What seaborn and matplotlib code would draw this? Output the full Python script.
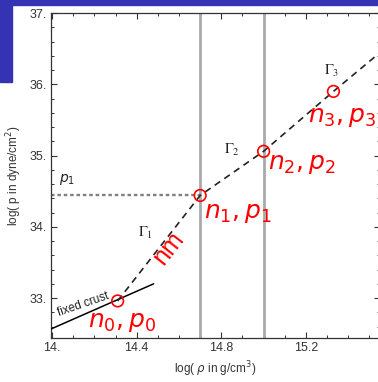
import matplotlib
matplotlib.use("Agg")
import matplotlib.pyplot as plt
from matplotlib.patches import Rectangle
from matplotlib.ticker import MultipleLocator, FuncFormatter
import seaborn as sns

# piecewise polytrope: dividing points (log rho, log p)
node_rho = [14.31, 14.70, 15.00, 15.33]
node_p = [32.96, 34.44, 35.06, 35.90]
# core EoS continues past the last node with the Gamma_3 slope
eos_rho = node_rho + [15.56]
eos_p = node_p + [36.47]
# fixed crust segment
crust_rho = [13.99, 14.48]
crust_p = [32.56, 33.20]
# dividing densities of the three core pieces
divide_rho = [14.70, 15.00]

node_labels = ["$n_0, p_0$", "$n_1, p_1$", "$n_2, p_2$", "$n_3, p_3$"]
gamma_labels = [r"$\Gamma_1$", r"$\Gamma_2$", r"$\Gamma_3$"]

sns.set_theme(style="ticks")
plt.rcParams["font.family"] = ["Liberation Sans", "DejaVu Sans"]
plt.rcParams["mathtext.fontset"] = "dejavusans"

W, H = 378, 382
fig = plt.figure(figsize=(W / 100, H / 100), dpi=100)
fig.patch.set_facecolor("white")

left, right, top, bottom = 51, 380, 13, 338
ax = fig.add_axes([left / W, 1 - bottom / H, (right - left) / W, (bottom - top) / H])
ax.set_xlim(13.995, 15.55)
ax.set_ylim(32.44, 37.0)

# dividing densities
for r in divide_rho:
    ax.axvline(r, color="#a9a9a9", lw=2.0, zorder=1)

# p1 reference level
ax.plot([13.995, node_rho[1]], [node_p[1], node_p[1]], color="#808080", lw=1.7,
        linestyle=(0, (1.5, 1.2)), zorder=2)

sns.lineplot(x=crust_rho, y=crust_p, ax=ax, color="black", lw=1.1, sort=False, zorder=3)
sns.lineplot(x=eos_rho, y=eos_p, ax=ax, color="#222222", lw=1.2, sort=False,
             linestyle=(0, (4.0, 3.0)), zorder=3)
sns.scatterplot(x=node_rho, y=node_p, ax=ax, marker="o", s=70, facecolor="none",
                edgecolor="red", linewidth=1.2, zorder=5)

# annotations
ax.text(14.07, 34.66, "$p_1$", fontsize=10, color="#222222", ha="center", va="center")
gamma_pos = [(14.44, 33.91), (14.85, 35.08), (15.32, 36.18)]
for (gx, gy), g in zip(gamma_pos, gamma_labels):
    ax.text(gx, gy, g, fontsize=10.5, color="#222222", ha="center", va="center",
            math_fontfamily="stix")
ax.text(14.15, 32.91, "fixed crust", fontsize=8.5, color="#222222", rotation=19,
        ha="center", va="center")

label_pos = [(14.33, 32.66), (14.88, 34.20), (15.18, 34.88), (15.37, 35.54)]
for (lx, ly), lab in zip(label_pos, node_labels):
    ax.text(lx, ly, lab, fontsize=18, color="red", ha="center", va="center", zorder=6)
ax.text(14.55, 33.70, "nm", fontsize=18, color="red", rotation=52,
        ha="center", va="center", zorder=6)

# axes styling
for s in ax.spines.values():
    s.set_color("#333333")
    s.set_linewidth(0.9)
    s.set_visible(True)
ax.xaxis.set_major_locator(MultipleLocator(0.4))
ax.xaxis.set_minor_locator(MultipleLocator(0.1))
ax.yaxis.set_major_locator(MultipleLocator(1.0))
ax.yaxis.set_minor_locator(MultipleLocator(0.2))


def fmt(v, pos):
    if abs(v - round(v)) < 1e-6:
        return f"{int(round(v))}."
    return f"{v:.1f}"


ax.xaxis.set_major_formatter(FuncFormatter(fmt))
ax.yaxis.set_major_formatter(FuncFormatter(fmt))
ax.tick_params(which="both", direction="in", top=True, right=True, color="#333333",
               labelsize=9, labelcolor="#333333", pad=3)
ax.tick_params(which="major", length=4.5, width=0.8)
ax.tick_params(which="minor", length=2.5, width=0.7)
ax.set_xlabel(r"log( $\rho$ in g/cm$^3$)", fontsize=8.5, color="#333333", labelpad=4)
ax.set_ylabel("log( p in dyne/cm$^2$)", fontsize=8.5, color="#333333", labelpad=4)

# slide frame decoration
blue = "#3333B3"
fig.add_artist(Rectangle((0, 1 - 4.5 / H), 1, 4.5 / H, transform=fig.transFigure,
                         color=blue, zorder=10))
fig.add_artist(Rectangle((0, 1 - 82 / H), 12 / W, 82 / H, transform=fig.transFigure,
                         color=blue, zorder=10))

fig.savefig("out.png", dpi=100)
